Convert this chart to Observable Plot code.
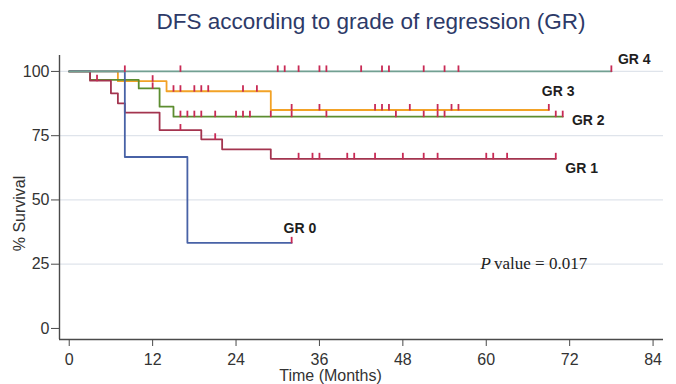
<!DOCTYPE html>
<html><head><meta charset="utf-8">
<script src="https://cdn.jsdelivr.net/npm/d3@7"></script>
<script src="https://cdn.jsdelivr.net/npm/@observablehq/plot@0.6"></script>
<style>
body{margin:0;background:#fff;}
#wrap{position:relative;width:676px;height:384px;overflow:hidden;background:#fff;font-family:"Liberation Sans",Arial,sans-serif;}
#title{position:absolute;left:71px;top:0;width:600px;height:40px;line-height:43px;text-align:center;font-size:22.5px;color:#2d3a68;white-space:nowrap;}
#chart{position:absolute;left:0;top:40px;}
</style></head><body>
<div id="wrap"><div id="title">DFS according to grade of regression (GR)</div><div id="chart"></div></div>
<script>
// ---- data ----
const groupNames = ["GR 0", "GR 1", "GR 2", "GR 3", "GR 4"];

const gr0Time = [0, 8, 17, 32];
const gr0Surv = [100, 66.7, 33.3, 33.3];
const gr0Censor = [32];

const gr1Time = [0, 3, 6, 7, 8, 13, 19, 22, 29, 70];
const gr1Surv = [100, 96.4, 91.5, 87.6, 84.0, 77.2, 73.6, 69.7, 66.0, 66.0];
const gr1Censor = [4, 16, 21, 33, 35, 36, 40, 41, 44, 48, 51, 53, 60, 61, 63, 70];

const gr2Time = [0, 3, 10, 13, 15, 71];
const gr2Surv = [100, 96.7, 93.4, 86.3, 82.4, 82.4];
const gr2Censor = [12, 16, 17, 18, 19, 21, 24, 25, 26, 29, 32, 37, 47, 51, 53, 54, 70, 71];

const gr3Time = [0, 7, 14, 29, 69];
const gr3Surv = [100, 96.2, 92.3, 85.0, 85.0];
const gr3Censor = [12, 15, 16, 18, 19, 20, 25, 27, 32, 36, 44, 45, 46, 49, 53, 55, 56, 69];

const gr4Time = [0, 78];
const gr4Surv = [100, 100];
const gr4Censor = [8, 16, 30, 31, 33, 36, 37, 42, 45, 46, 51, 54, 56, 78];

const xTicks = [0, 12, 24, 36, 48, 60, 72, 84];
const yTicks = [0, 25, 50, 75, 100];
const gridValues = [25, 50, 75, 100];
const xDomain = [-1.4, 85.5];
const yDomain = [-4.3, 106.2];
const pLetter = "P";
const pRest = "value = 0.017";
const xLabel = "Time (Months)";
const yLabel = "% Survival";

// ---- styles ----
const groupColors = ["#4862a6", "#a3344f", "#5d8d30", "#f2a226", "#72a092"];
const censorColor = "#c82a55";
const axisColor = "#4a4a4a";
const sansFont = "Liberation Sans, Arial, sans-serif";
const serifFont = "Liberation Serif, Times New Roman, serif";

// ---- build tables ----
const raw = [
  [gr0Time, gr0Surv, gr0Censor],
  [gr1Time, gr1Surv, gr1Censor],
  [gr2Time, gr2Surv, gr2Censor],
  [gr3Time, gr3Surv, gr3Censor],
  [gr4Time, gr4Surv, gr4Censor]
];
function levelAt(times, survs, t) {
  let v = survs[0];
  for (let i = 0; i < times.length; i++) if (times[i] <= t) v = survs[i];
  return v;
}
const curves = raw.map(([T, S], g) => T.map((t, i) => ({group: groupNames[g], t, s: S[i]})));
const censors = raw.flatMap(([T, S, C], g) => C.map(t => ({group: groupNames[g], t, s: levelAt(T, S, t)})));
const ends = curves.map(rows => [rows[rows.length - 1]]);

const censorSymbol = {draw(ctx) { ctx.moveTo(0, 0.5); ctx.lineTo(0, -6); }};

const lineMark = g => Plot.line(curves[g], {x: "t", y: "s", curve: "step-after", stroke: groupColors[g], strokeWidth: 1.8});
const labelMark = (g, dx, dy) => Plot.text(ends[g], {x: "t", y: "s", text: d => d.group, dx, dy, textAnchor: "start", lineAnchor: "middle", fontWeight: "bold", fontSize: 14, fill: "#1e1e1e", fontFamily: sansFont});

const chart = Plot.plot({
  width: 676, height: 344,
  marginLeft: 59, marginRight: 13, marginTop: 15, marginBottom: 45,
  x: {domain: xDomain},
  y: {domain: yDomain},
  style: {fontFamily: sansFont, color: "#333", background: "#fff", overflow: "visible"},
  marks: [
    Plot.gridY(gridValues, {stroke: "#dfe4eb", strokeOpacity: 1, strokeWidth: 1.2}),
    Plot.ruleX([xDomain[0]], {stroke: axisColor, strokeWidth: 1.4}),
    Plot.ruleY([yDomain[0]], {stroke: axisColor, strokeWidth: 1.4}),
    Plot.axisX(xTicks, {tickSize: 7, tickPadding: 7, fontSize: 16, label: null, stroke: axisColor}),
    Plot.axisY(yTicks, {tickSize: 8, tickPadding: 2, fontSize: 16, label: null, stroke: axisColor}),
    lineMark(3), lineMark(2), lineMark(1), lineMark(0), lineMark(4),
    Plot.dot(censors, {x: "t", y: "s", symbol: censorSymbol, r: 3, fill: "none", stroke: censorColor, strokeWidth: 1.8}),
    labelMark(4, 6.6, -11.5),
    labelMark(3, -7, -18.4),
    labelMark(2, 9.2, 3.6),
    labelMark(1, 9.5, 9.4),
    labelMark(0, -8.1, -14.6),
    Plot.text([pLetter], {text: d => d, frameAnchor: "top-left", dx: 421, dy: 207.6, textAnchor: "start", lineAnchor: "middle", fontStyle: "italic", fontFamily: serifFont, fontSize: 17, fill: "#222"}),
    Plot.text([pRest], {text: d => d, frameAnchor: "top-left", dx: 434.5, dy: 207.6, textAnchor: "start", lineAnchor: "middle", fontFamily: serifFont, fontSize: 17, fill: "#222"}),
    Plot.text([xLabel], {text: d => d, frameAnchor: "bottom", dx: -31, dy: 36, textAnchor: "middle", lineAnchor: "middle", fontSize: 16, fill: "#333"}),
    Plot.text([yLabel], {text: d => d, frameAnchor: "left", dx: -40, dy: 16, rotate: -90, textAnchor: "middle", lineAnchor: "middle", fontSize: 16, fill: "#333"})
  ]
});
document.getElementById("chart").appendChild(chart);
</script>
</body></html>
